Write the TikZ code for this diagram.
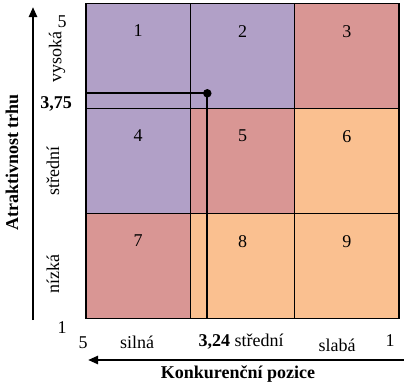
\documentclass[tikz,border=0pt]{standalone}
\usepackage{fontspec}
\setmainfont{Liberation Serif}
\usetikzlibrary{positioning,arrows.meta}

\definecolor{fialova}{HTML}{B1A0C7}
\definecolor{cervena}{HTML}{D99694}
\definecolor{oranzova}{HTML}{FAC090}

\tikzset{
  bunka/.style={rectangle,draw,line width=1.2pt,minimum width=104.3pt,minimum height=105pt,inner sep=0pt},
  cislo/.style={inner sep=0pt},
  popis/.style={inner sep=0pt},
  osa/.style={line width=2.4pt,-{Triangle[length=10pt,width=8pt]}}
}

\begin{document}
\begin{tikzpicture}[x=1pt,y=-1pt,font=\fontsize{18}{20}\selectfont]
        \useasboundingbox (0,0) rectangle (404,383);

        % matice 3x3
        \node[bunka,fill=fialova] (c1) at (138.2,56) {};
        \node[bunka,fill=fialova] (c2) at (242.5,56) {};
        \node[bunka,fill=cervena] (c3) at (346.8,56) {};
        \node[bunka,fill=fialova] (c4) at (138.2,161) {};
        \node[bunka,fill=cervena] (c5) at (242.5,161) {};
        \node[bunka,fill=oranzova] (c6) at (346.8,161) {};
        \node[bunka,fill=cervena] (c7) at (138.2,266) {};
        \node[bunka,fill=oranzova] (c8) at (242.5,266) {};
        \node[bunka,fill=oranzova] (c9) at (346.8,266) {};

        % cisla poli
        \node[cislo,below=22pt of c1.north] (n1) {1};
        \node[cislo,below=22pt of c2.north] (n2) {2};
        \node[cislo,below=22pt of c3.north] (n3) {3};
        \node[cislo,below=22pt of c4.north] (n4) {4};
        \node[cislo,below=22pt of c5.north] (n5) {5};
        \node[cislo,below=22pt of c6.north] (n6) {6};
        \node[cislo,below=22pt of c7.north] (n7) {7};
        \node[cislo,below=22pt of c8.north] (n8) {8};
        \node[cislo,below=22pt of c9.north] (n9) {9};

        % poloha bodu
        \node[circle,fill=black,inner sep=0pt,minimum size=8.5pt] (bod) at (207.3,93.3) {};
        \draw[line width=2.2pt] (c1.west |- bod) -- (bod.center);
        \draw[line width=2.2pt] (bod.center) -- (bod |- c7.south);

        % svisla osa
        \coordinate (ypata) at (33,320);
        \coordinate (yvrch) at (33,7);
        \draw[osa] (ypata) -- (yvrch);
        \node[popis,rotate=90,font=\fontsize{18}{20}\selectfont\bfseries] (atrakt) at (12,162.5) {Atraktivnost trhu};
        \node[popis] (y5) at (62,22) {5};
        \node[popis,rotate=90] (vysoka) at (57,57) {vysoká};
        \node[popis,font=\fontsize{18}{20}\selectfont\bfseries] (y375) at (56,104) {3,75};
        \node[popis,rotate=90] (ystred) at (53,171) {střední};
        \node[popis,rotate=90] (nizka) at (53,274) {nízká};
        \node[popis] (y1) at (62,328) {1};

        % vodorovna osa
        \coordinate (xpata) at (404,360);
        \coordinate (xvrch) at (88,360);
        \draw[osa] (xpata) -- (xvrch);
        \node[popis,font=\fontsize{18}{20}\selectfont\bfseries] (konk) at (238,374) {Konkurenční pozice};
        \node[popis] (x5) at (83,343) {5};
        \node[popis] (silna) at (137,342) {silná};
        \node[popis] (xstred) at (241,342) {\textbf{3,24} střední};
        \node[popis] (slaba) at (337,345) {slabá};
        \node[popis] (x1) at (390,341) {1};
    \end{tikzpicture}
\end{document}
